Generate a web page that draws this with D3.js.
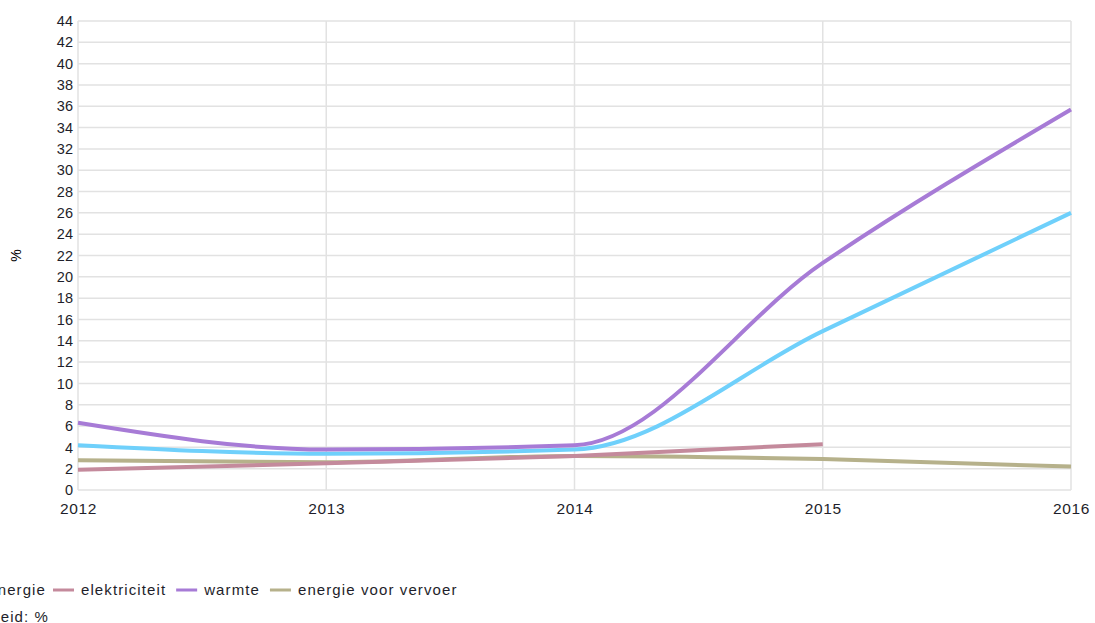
<!DOCTYPE html>
<html lang="nl">
<head>
<meta charset="utf-8">
<title>Hernieuwbare energie</title>
<script src="https://d3js.org/d3.v7.min.js"></script>
<style>
  body { margin: 0; background: #fff; font-family: "Liberation Sans", Arial, sans-serif; }
  .grid line { stroke: #e2e2e2; stroke-width: 1.5; }
  .tick text { fill: #1e1e2a; }
  .y-axis .tick text { font-size: 14.5px; }
  .x-axis .tick text { font-size: 15.5px; letter-spacing: 0.6px; }
  .legend text { font-size: 15px; fill: #1e1e2a; letter-spacing: 1.1px; word-spacing: 0px; }
</style>
</head>
<body>
<script>
var years = [2012, 2013, 2014, 2015, 2016];
var yTicks = d3.range(0, 45, 2);
var seriesNames = ["hernieuwbare energie", "elektriciteit", "warmte", "energie voor vervoer"];
var seriesColors = ["#6fd0fb", "#c48a9c", "#a77bd6", "#b6b18b"];
var totaal = [4.2, 3.4, 3.8, 14.9, 26.0];
var elektriciteit = [1.9, 2.5, 3.2, 4.3, null];
var warmte = [6.3, 3.8, 4.2, 21.3, 35.7];
var vervoer = [2.8, 2.6, 3.2, 2.9, 2.2];
var seriesValues = [totaal, elektriciteit, warmte, vervoer];

var width = 1095, height = 623;
var margin = {left: 78, right: 24, top: 21, bottom: 133};

var svg = d3.select("body").append("svg")
    .attr("width", width)
    .attr("height", height);

var x = d3.scaleLinear().domain([2012, 2016]).range([margin.left, width - margin.right]);
var y = d3.scaleLinear().domain([0, 44]).range([height - margin.bottom, margin.top]);

// grid
var grid = svg.append("g").attr("class", "grid");
grid.selectAll(".h").data(yTicks).enter().append("line")
    .attr("x1", x(2012)).attr("x2", x(2016))
    .attr("y1", function(d) { return y(d); }).attr("y2", function(d) { return y(d); });
grid.selectAll(".v").data(years).enter().append("line")
    .attr("x1", function(d) { return x(d); }).attr("x2", function(d) { return x(d); })
    .attr("y1", y(0)).attr("y2", y(44));

// axes
svg.append("g")
    .attr("class", "y-axis")
    .attr("transform", "translate(" + margin.left + ",0)")
    .call(d3.axisLeft(y).tickValues(yTicks).tickSize(0).tickPadding(5))
    .call(function(g) { g.select(".domain").remove(); });

svg.append("g")
    .attr("class", "x-axis")
    .attr("transform", "translate(0," + y(0) + ")")
    .call(d3.axisBottom(x).tickValues(years).tickFormat(d3.format("d")).tickSize(0).tickPadding(13))
    .call(function(g) { g.select(".domain").remove(); });

svg.append("text")
    .attr("transform", "translate(21," + y(22) + ") rotate(-90)")
    .attr("text-anchor", "middle")
    .style("font-size", "14px")
    .text("%");

// lines
var line = d3.line()
    .defined(function(d) { return d != null; })
    .x(function(d, i) { return x(years[i]); })
    .y(function(d) { return y(d); })
    .curve(d3.curveMonotoneX);

var drawOrder = [3, 1, 0, 2];
drawOrder.forEach(function(k) {
    svg.append("path")
        .datum(seriesValues[k])
        .attr("fill", "none")
        .attr("stroke", seriesColors[k])
        .attr("stroke-width", 4)
        .attr("d", line);
});

// legend (first label runs off the left edge, as in the original)
var legend = svg.append("g").attr("class", "legend");
var lx = 46, ly = 590;
seriesNames.forEach(function(name, i) {
    var t = legend.append("text").attr("y", ly + 5).text(name);
    var w = t.node().getComputedTextLength();
    if (i === 0) {
        t.attr("x", lx - w);
        legend.append("line")
            .attr("x1", lx - w - 30).attr("x2", lx - w - 8)
            .attr("y1", ly).attr("y2", ly)
            .attr("stroke", seriesColors[i]).attr("stroke-width", 3);
        lx = lx + 7;
    } else {
        legend.append("line")
            .attr("x1", lx).attr("x2", lx + 21)
            .attr("y1", ly).attr("y2", ly)
            .attr("stroke", seriesColors[i]).attr("stroke-width", 3);
        t.attr("x", lx + 28);
        lx = lx + 28 + w + 10;
    }
});

legend.append("text")
    .attr("x", 49).attr("y", 622)
    .attr("text-anchor", "end")
    .text("eenheid: %");
</script>
</body>
</html>
